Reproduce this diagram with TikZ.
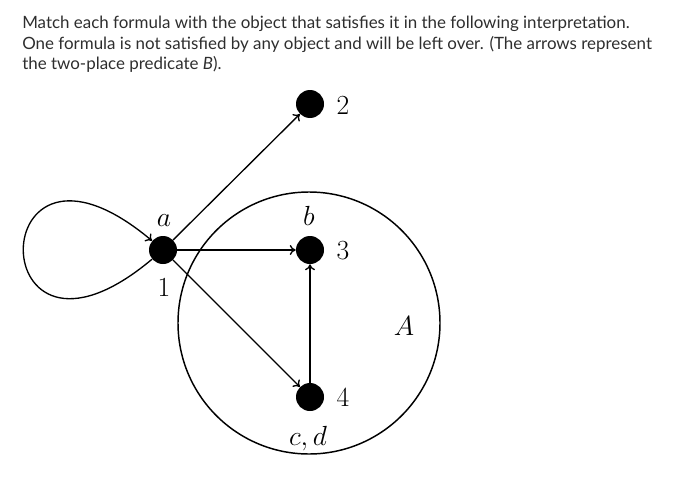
\documentclass[tikz,border=0pt]{standalone}
\usepackage{fontspec}
\newfontfamily\latofont{Lato}
\usetikzlibrary{arrows.meta}

\begin{document}
\begin{tikzpicture}[
  x=0.75pt, y=0.75pt,
  dot/.style={circle, fill=black, inner sep=0pt, minimum size=21pt},
  lbl/.style={anchor=base, inner sep=0pt, font=\fontsize{20}{24}\selectfont},
  txt/.style={anchor=base west, inner sep=0pt, font=\latofont\fontsize{12.7}{15}\selectfont, text=black!82},
  arr/.style={-{To[length=4.5pt,width=7.5pt]}, line width=1pt}
]
\useasboundingbox (0,0) rectangle (700,480);
% question text
\node[txt] (line1) at (22,452) {Match each formula with the object that satisfies it in the following interpretation.};
\node[txt] (line2) at (22,431) {One formula is not satisfied by any object and will be left over. (The arrows represent};
\node[txt] (line3) at (22,411) {the two-place predicate \textit{B}).};
% the set A
\node[draw, circle, line width=1.1pt, minimum size=196.5pt, inner sep=0pt] (setA) at (309,157) {};
% objects
\node[dot] (n1) at (163,230) {};
\node[dot] (n2) at (310,376) {};
\node[dot] (n3) at (310,230) {};
\node[dot] (n4) at (310,83) {};
% labels
\node[lbl] (num1) at (164,184) {$1$};
\node[lbl] (num2) at (343,366) {$2$};
\node[lbl] (num3) at (343,221) {$3$};
\node[lbl] (num4) at (343,74) {$4$};
\node[lbl] (name1) at (164,254) {$a$};
\node[lbl] (name3) at (309,255) {$b$};
\node[lbl] (name4) at (308,35) {$c,d$};
\node[lbl] (nameA) at (404,145) {$A$};
% relation B
\draw[arr] (n1) -- (n2);
\draw[arr] (n1) -- (n3);
\draw[arr] (n1) -- (n4);
\draw[arr] (n4) -- (n3);
\draw[arr] (n1) to[out=220, in=140, min distance=168pt] (n1);
\end{tikzpicture}
\end{document}
